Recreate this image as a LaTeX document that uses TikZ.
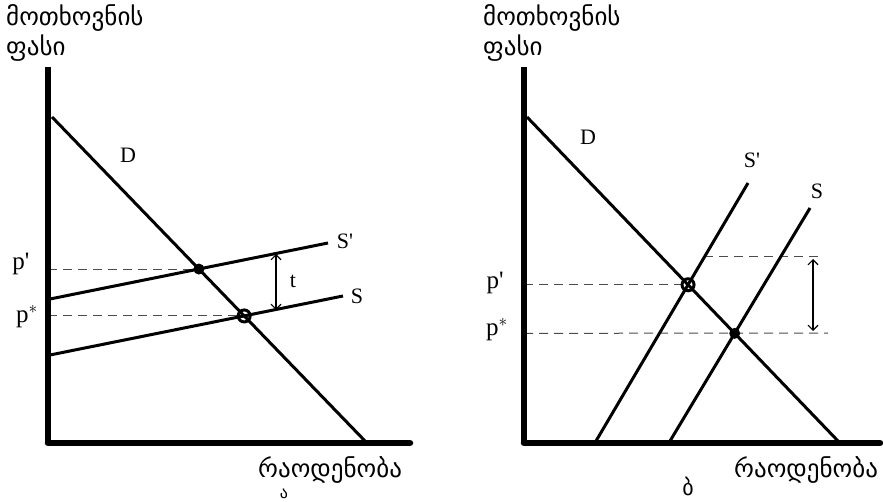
\documentclass[tikz,border=0pt]{standalone}
\usepackage{fontspec}
\setmainfont{Liberation Serif}[Ligatures=TeXOff]
\newfontfamily\geo{DejaVu Sans}
\usetikzlibrary{arrows.meta}
\begin{document}
\begin{tikzpicture}[x=1pt,y=-1pt,
  axisline/.style={line width=6.5pt},
  curveline/.style={line width=3pt},
  guide/.style={dash pattern=on 9pt off 6pt, line width=1pt, draw=black!70},
  gaparrow/.style={{Straight Barb[length=5pt,width=10pt]}-{Straight Barb[length=5pt,width=10pt]}, line width=1.1pt},
  lbl/.style={font=\fontsize{22}{24}\selectfont, inner sep=0},
  plbl/.style={font=\fontsize{25}{27}\selectfont, inner sep=0},
  geolbl/.style={font=\geo\fontsize{25}{27}\selectfont, inner sep=0, anchor=west},
  dotfilled/.style={circle, fill=black, inner sep=0, minimum size=11pt},
  dotring/.style={circle, draw=black, line width=3pt, inner sep=0, minimum size=12pt}
]
\useasboundingbox (0,0) rectangle (883,502);

% ---------------- left panel ----------------
\coordinate (aYtop) at (48,67);
\coordinate (aO) at (48,443);
\coordinate (aXend) at (410,443);
\coordinate (aD1) at (52,117);
\coordinate (aD2) at (365,441);
\coordinate (aSp1) at (50,299);
\coordinate (aSp2) at (328,243);
\coordinate (aS1) at (50,355);
\coordinate (aS2) at (343,296);
\coordinate (aE1) at (intersection of aD1--aD2 and aSp1--aSp2);
\coordinate (aE0) at (intersection of aD1--aD2 and aS1--aS2);
\coordinate (aT1) at (276,254);
\coordinate (aT2) at (276,310);

\draw[guide] (aE1 -| aO) -- (aE1);
\draw[guide] (aE0 -| aO) -- (aE0);
\draw[curveline] (aD1) -- (aD2);
\draw[curveline] (aSp1) -- (aSp2);
\draw[curveline] (aS1) -- (aS2);
\draw[axisline] (aYtop) -- (aO);
\draw[axisline, line cap=round] (aO) -- (aXend);
\draw[gaparrow] (aT1) -- (aT2);
\node[dotfilled] (aEq1) at (aE1) {};
\node[dotring] (aEq0) at (aE0) {};

\node[lbl] (aDl) at (128,155) {D};
\node[lbl] (aSpl) at (345,241) {S'};
\node[lbl] (aSl) at (357,296) {S};
\node[lbl] (atl) at (293,281) {t};
\node[plbl] (apl) at (21,264) {p'};
\node[plbl] (apsl) at (27,317) {p$^*$};
\node[geolbl] (aT) at (6,18) {მოთხოვნის};
\node[geolbl] (aT2l) at (6,48) {ფასი};
\node[geolbl] (aQ) at (258,470) {რაოდენობა};
\node[font=\geo\fontsize{16}{18}\selectfont, inner sep=0, anchor=north] (aLet) at (284,489) {ა};

% ---------------- right panel ----------------
\coordinate (bYtop) at (524,67);
\coordinate (bO) at (524,443);
\coordinate (bXend) at (880,443);
\coordinate (bD1) at (527,117);
\coordinate (bD2) at (838,441);
\coordinate (bSp1) at (596,441);
\coordinate (bSp2) at (748,183);
\coordinate (bS1) at (670,441);
\coordinate (bS2) at (810,208);
\coordinate (bE1) at (intersection of bD1--bD2 and bSp1--bSp2);
\coordinate (bE0) at (intersection of bD1--bD2 and bS1--bS2);
\coordinate (bTop) at (704,257);
\coordinate (bTopEnd) at (823,257);
\coordinate (bLowEnd) at (828,333);
\coordinate (bA1) at (813,259);
\coordinate (bA2) at (813,331);

\draw[guide] (bE1 -| bO) -- (bE1);
\draw[guide] (bE0 -| bO) -- (bLowEnd);
\draw[guide] (bTop) -- (bTopEnd);
\draw[curveline] (bD1) -- (bD2);
\draw[curveline] (bSp1) -- (bSp2);
\draw[curveline] (bS1) -- (bS2);
\draw[axisline] (bYtop) -- (bO);
\draw[axisline, line cap=round] (bO) -- (bXend);
\draw[gaparrow] (bA1) -- (bA2);
\node[dotring] (bEq1) at (bE1) {};
\node[dotfilled] (bEq0) at (bE0) {};

\node[lbl] (bDl) at (588,137) {D};
\node[lbl] (bSpl) at (752,160) {S'};
\node[lbl] (bSl) at (817,191) {S};
\node[plbl] (bpl) at (495,283) {p'};
\node[plbl] (bpsl) at (497,330) {p$^*$};
\node[geolbl] (bT) at (483,18) {მოთხოვნის};
\node[geolbl] (bT2l) at (483,48) {ფასი};
\node[geolbl] (bQ) at (734,470) {რაოდენობა};
\node[font=\geo\fontsize{22}{24}\selectfont, inner sep=0] (bLet) at (688,486) {ბ};
\end{tikzpicture}
\end{document}
